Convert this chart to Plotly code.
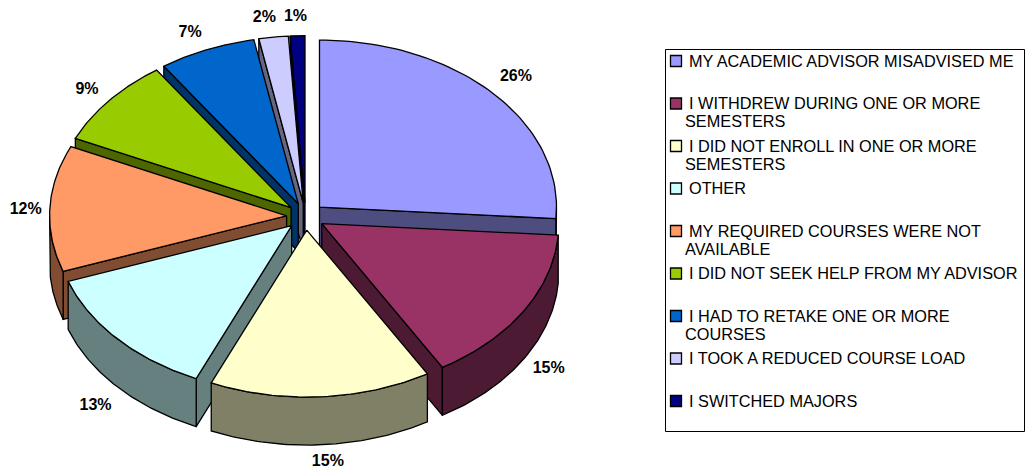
import math
import plotly.graph_objects as go

# ---- data ----
categories = [
    "MY ACADEMIC ADVISOR MISADVISED ME",
    "I WITHDREW DURING ONE OR MORE SEMESTERS",
    "I DID NOT ENROLL IN ONE OR MORE SEMESTERS",
    "OTHER",
    "MY REQUIRED COURSES WERE NOT AVAILABLE",
    "I DID NOT SEEK HELP FROM MY ADVISOR",
    "I HAD TO RETAKE ONE OR MORE COURSES",
    "I TOOK A REDUCED COURSE LOAD",
    "I SWITCHED MAJORS",
]
values = [26.1, 15.4, 15.1, 13.0, 12.2, 8.6, 6.6, 2.0, 1.0]

# ---- style ----
top_colors = ["#9999FF", "#993366", "#FFFFCC", "#CCFFFF", "#FF9966",
              "#99CC00", "#0066CC", "#CCCCFF", "#000080"]
side_colors = ["#4D4D80", "#4D1A33", "#808066", "#668080", "#804D33",
               "#4D6600", "#003366", "#666680", "#000040"]
legend_lines = [
    ["MY ACADEMIC ADVISOR MISADVISED ME"],
    ["I WITHDREW DURING ONE OR MORE", "SEMESTERS"],
    ["I DID NOT ENROLL IN ONE OR MORE", "SEMESTERS"],
    ["OTHER"],
    ["MY REQUIRED COURSES WERE NOT", "AVAILABLE"],
    ["I DID NOT SEEK HELP FROM MY ADVISOR"],
    ["I HAD TO RETAKE ONE OR MORE", "COURSES"],
    ["I TOOK A REDUCED COURSE LOAD"],
    ["I SWITCHED MAJORS"],
]
label_nudge = [(-1, 0), (-3, -2), (5, -5.5), (2, 3), (9, 3), (3, 4), (-4, 5), (-5, 4), (-1, 4)]
draw_order = [8, 7, 6, 5, 4, 3, 0, 1, 2]

CX, CY, RX, RY = 305.6, 216.4, 237.0, 167.0
EX, EY = 19.0, 13.7
DEPTH, LW = 48.0, 1.3
FONT = "Liberation Sans, Arial, sans-serif"

total = sum(values)
starts, ends = [], []
acc = 0.0
for v in values:
    starts.append(acc / total * 2 * math.pi)
    acc += v
    ends.append(acc / total * 2 * math.pi)


def rim(ax, ay, t):
    return ax + RX * math.sin(t), ay - RY * math.cos(t)


def arc(ax, ay, t0, t1, n=60):
    pts = [rim(ax, ay, t0 + (t1 - t0) * i / n) for i in range(n + 1)]
    return [p[0] for p in pts], [p[1] for p in pts]


fig = go.Figure()


def poly(xs, ys, color, name):
    fig.add_trace(go.Scatter(
        x=xs + xs[:1], y=ys + ys[:1], mode="lines", fill="toself", fillcolor=color,
        line=dict(color="#000000", width=LW), hoverinfo="skip", showlegend=False, name=name))


for i in draw_order:
    t0, t1 = starts[i], ends[i]
    m = (t0 + t1) / 2
    ax, ay = CX + EX * math.sin(m), CY - EY * math.cos(m)
    side = side_colors[i]
    # radial walls: only those that face the viewer
    for t, visible in ((t0, math.sin(t0) < -1e-9), (t1, math.sin(t1) > 1e-9)):
        if visible:
            px, py = rim(ax, ay, t)
            poly([ax, px, px, ax], [ay, py, py + DEPTH, ay + DEPTH], side, categories[i])
    # outer wall: only the part of the rim facing the viewer
    a, b = max(t0, math.pi / 2), min(t1, 3 * math.pi / 2)
    if b > a:
        xs, ys = arc(ax, ay, a, b)
        poly(xs + xs[::-1], ys + [y + DEPTH for y in ys[::-1]], side, categories[i])
    # top face
    xs, ys = arc(ax, ay, t0, t1)
    poly([ax] + xs, [ay] + ys, top_colors[i], categories[i])

# percentage labels
for i, v in enumerate(values):
    m = (starts[i] + ends[i]) / 2
    k = 1.22
    lx = CX + k * RX * math.sin(m) + label_nudge[i][0]
    ly = CY - k * RY * math.cos(m) + (DEPTH if math.cos(m) < 0 else 0) + label_nudge[i][1]
    fig.add_trace(go.Scatter(
        x=[lx], y=[ly], mode="text", text=[f"{v:.0f}%"], textposition="middle center",
        textfont=dict(family=FONT, size=16, color="#000000"), texttemplate="<b>%{text}</b>",
        hoverinfo="skip", showlegend=False))

# legend box + rows
fig.add_shape(type="rect", x0=665.5, x1=1024.5, y0=49.5, y1=431.5,
              line=dict(color="#000000", width=1), fillcolor="#FFFFFF", layer="below")
ROW0, ROW_STEP, LINE_STEP = 61.0, 42.5, 17.7
for i, lines in enumerate(legend_lines):
    y = ROW0 + ROW_STEP * i
    fig.add_trace(go.Scatter(
        x=[676], y=[y], mode="markers",
        marker=dict(symbol="square", size=11, color=top_colors[i], line=dict(color="#000000", width=1.3)),
        hoverinfo="skip", showlegend=False))
    for j, line in enumerate(lines):
        fig.add_trace(go.Scatter(
            x=[689 if j == 0 else 685], y=[y + j * LINE_STEP + 1.8], mode="text", text=[line],
            textposition="middle right", textfont=dict(family=FONT, size=16.3, color="#000000"),
            hoverinfo="skip", showlegend=False))

fig.update_layout(
    width=1026, height=470, autosize=False, margin=dict(l=0, r=0, t=0, b=0),
    paper_bgcolor="#FFFFFF", plot_bgcolor="#FFFFFF", showlegend=False,
    xaxis=dict(range=[0, 1026], visible=False, fixedrange=True),
    yaxis=dict(range=[470, 0], visible=False, fixedrange=True),
)
fig.write_html("out.html", config=dict(displayModeBar=False),
               post_script="document.body.style.margin='0';document.body.style.overflow='hidden';")
